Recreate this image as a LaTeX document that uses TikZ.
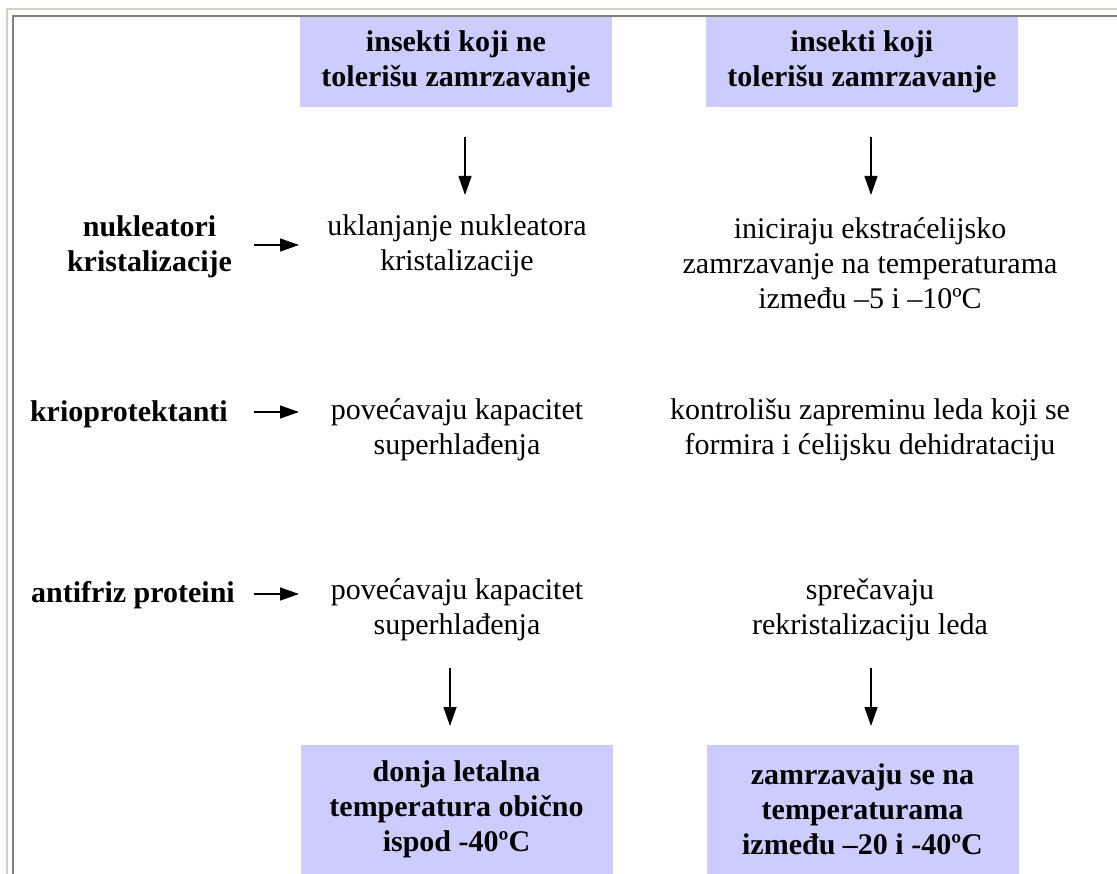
\documentclass[tikz,border=0pt]{standalone}
\usepackage{fontspec}
\setmainfont{Liberation Serif}
\usetikzlibrary{arrows.meta}
\definecolor{boxblue}{HTML}{CCCCFF}
\definecolor{framebeige}{HTML}{D4D0C8}
\definecolor{framegray}{HTML}{808080}
\begin{document}
\begin{tikzpicture}[x=1pt,y=-1pt,
  txt/.style={inner sep=0pt, align=center, font=\fontsize{30}{35}\selectfont},
  btxt/.style={txt, font=\fontsize{30}{35}\selectfont\bfseries},
  bluebox/.style={btxt, fill=boxblue, minimum width=312pt},
  arr/.style={line width=1.3pt, -{Triangle[length=19pt,width=13pt]}}]
\useasboundingbox (0,0) rectangle (1117,874);
\fill[white] (0,0) rectangle (1117,874);
\draw[framebeige, line width=2pt] (7,874) -- (7,9) -- (1117,9);
\draw[framegray, line width=2pt] (13,874) -- (13,16) -- (1117,16);
% top boxes
\node[bluebox, minimum height=90pt] (tl) at (456,62) {insekti koji ne\\tolerišu zamrzavanje};
\node[bluebox, minimum height=90pt] (tr) at (862,62) {insekti koji\\tolerišu zamrzavanje};
% row 1
\node[btxt] (l1) at (149.5,247) {nukleatori\\kristalizacije};
\node[txt] (m1) at (457,246) {uklanjanje nukleatora\\kristalizacije};
\node[txt] (r1) at (870,263) {iniciraju ekstraćelijsko\\zamrzavanje na temperaturama\\između –5 i –10ºC};
% row 2
\node[btxt, anchor=east] (l2) at (228,414) {krioprotektanti};
\node[txt] (m2) at (457,430) {povećavaju kapacitet\\superhlađenja};
\node[txt] (r2) at (870,430) {kontrolišu zapreminu leda koji se\\formira i ćelijsku dehidrataciju};
% row 3
\node[btxt, anchor=east] (l3) at (235,595) {antifriz proteini};
\node[txt] (m3) at (457,610) {povećavaju kapacitet\\superhlađenja};
\node[txt] (r3) at (870,610) {sprečavaju\\rekristalizaciju leda};
% bottom boxes
\node[bluebox, minimum height=129pt] (bl) at (456.5,809.5) {donja letalna\\temperatura obično\\ispod -40ºC};
\node[bluebox, minimum height=129pt] (br) at (862.5,809.5) {zamrzavaju se na\\temperaturama\\između –20 i -40ºC};
% arrow end points
\coordinate (a1s) at (465,137); \coordinate (a1e) at (465,195);
\coordinate (a2s) at (871,137); \coordinate (a2e) at (871,195);
\coordinate (a3s) at (450,668); \coordinate (a3e) at (450,726);
\coordinate (a4s) at (871,668); \coordinate (a4e) at (871,726);
\coordinate (h1s) at (254,245); \coordinate (h1e) at (299,245);
\coordinate (h2s) at (254,412); \coordinate (h2e) at (299,412);
\coordinate (h3s) at (254,594); \coordinate (h3e) at (299,594);
\draw[arr] (a1s) -- (a1e);
\draw[arr] (a2s) -- (a2e);
\draw[arr] (a3s) -- (a3e);
\draw[arr] (a4s) -- (a4e);
\draw[arr] (h1s) -- (h1e);
\draw[arr] (h2s) -- (h2e);
\draw[arr] (h3s) -- (h3e);
\end{tikzpicture}
\end{document}
